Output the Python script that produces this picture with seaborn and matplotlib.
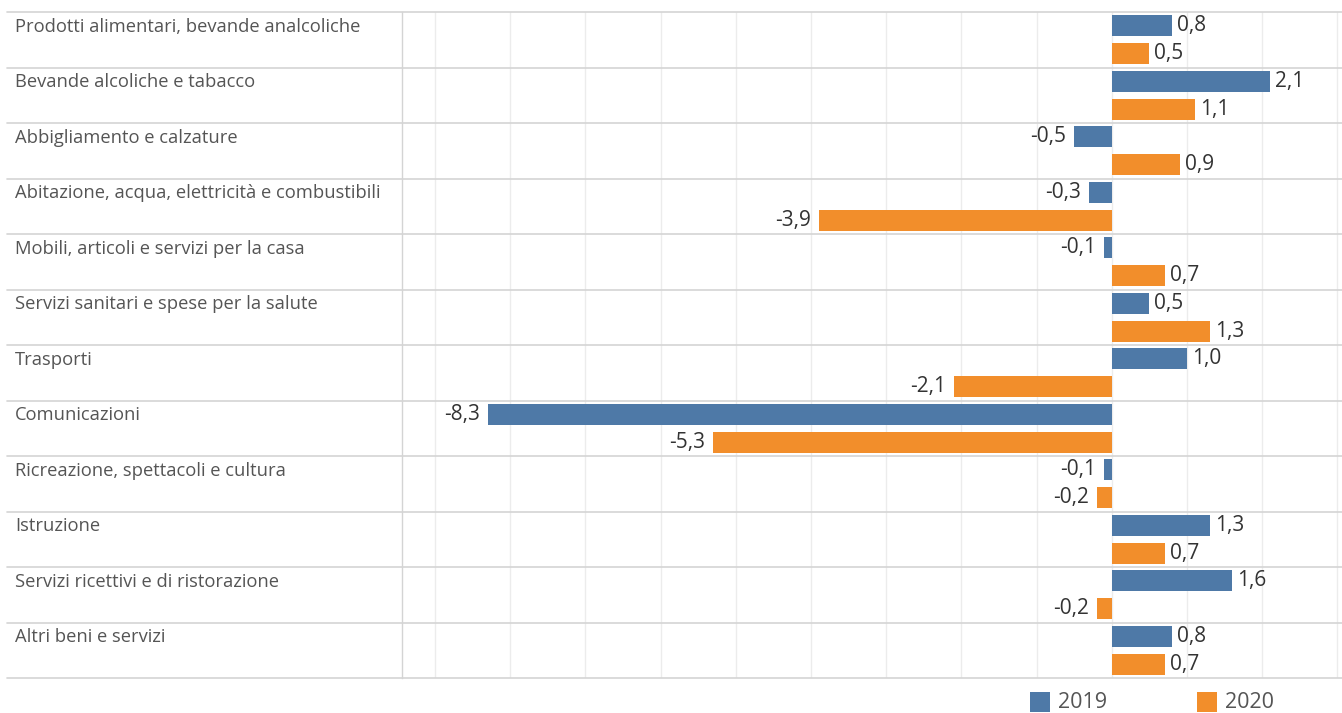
import matplotlib
matplotlib.use("Agg")
import matplotlib.pyplot as plt
import seaborn as sns
import pandas as pd
from matplotlib.patches import Rectangle

categories = [
    "Prodotti alimentari, bevande analcoliche",
    "Bevande alcoliche e tabacco",
    "Abbigliamento e calzature",
    "Abitazione, acqua, elettricità e combustibili",
    "Mobili, articoli e servizi per la casa",
    "Servizi sanitari e spese per la salute",
    "Trasporti",
    "Comunicazioni",
    "Ricreazione, spettacoli e cultura",
    "Istruzione",
    "Servizi ricettivi e di ristorazione",
    "Altri beni e servizi",
]
values_2019 = [0.8, 2.1, -0.5, -0.3, -0.1, 0.5, 1.0, -8.3, -0.1, 1.3, 1.6, 0.8]
values_2020 = [0.5, 1.1, 0.9, -3.9, 0.7, 1.3, -2.1, -5.3, -0.2, 0.7, -0.2, 0.7]
years = ["2019", "2020"]

colors = {"2019": "#4E79A7", "2020": "#F28E2B"}

df = pd.DataFrame({
    "categoria": categories * 2,
    "valore": values_2019 + values_2020,
    "anno": [years[0]] * len(categories) + [years[1]] * len(categories),
})

sns.set_theme(style="white")
plt.rcParams["font.family"] = ["Open Sans", "DejaVu Sans"]

W, H = 1342, 713
fig = plt.figure(figsize=(W / 100, H / 100), dpi=100)
ax_left, ax_right = 402, 1342
ax_top, ax_bot = 12, 678
ax = fig.add_axes([ax_left / W, 1 - ax_bot / H, (ax_right - ax_left) / W, (ax_bot - ax_top) / H])

sns.barplot(data=df, y="categoria", x="valore", hue="anno", orient="h",
            palette=colors, width=1.0, gap=0.24, ax=ax, legend=False,
            saturation=1, linewidth=0, errorbar=None)

xmin, xmax = -9.44, 3.06
ax.set_xlim(xmin, xmax)
ax.set_ylim(len(categories) - 0.5, -0.5)

# vertical gridlines at every unit
for gx in range(-9, 4):
    ax.axvline(gx, color="#ececec", lw=1, zorder=0)

ax.set_xticks([])
ax.set_yticks([])
ax.set_xlabel("")
ax.set_ylabel("")
for s in ["top", "right", "bottom"]:
    ax.spines[s].set_visible(False)
ax.spines["left"].set_color("#d4d4d4")
ax.spines["left"].set_linewidth(1)

# row separators spanning the label column and the plot
x0 = (7 - ax_left) / (ax_right - ax_left)
tr = ax.get_yaxis_transform()
for i in range(len(categories) + 1):
    ax.plot([x0, 1], [i - 0.5, i - 0.5], transform=tr, color="#d4d4d4",
            lw=1.2, clip_on=False, zorder=1)

# category labels in the left column
xl = (15 - ax_left) / (ax_right - ax_left)
for i, c in enumerate(categories):
    ax.text(xl, i - 0.5 + 0.1, c, transform=tr, ha="left", va="top",
            fontsize=13.2, color="#555555", clip_on=False)

# value labels
px_per_unit = (ax_right - ax_left) / (xmax - xmin)
for i in range(len(categories)):
    for v, off in ((values_2019[i], -0.25), (values_2020[i], 0.25)):
        txt = f"{v:.1f}".replace(".", ",")
        if v >= 0:
            ax.text(v + 5 / px_per_unit, i + off, txt, ha="left", va="center",
                    fontsize=15, color="#333333")
        else:
            ax.text(v - 8 / px_per_unit, i + off, txt, ha="right", va="center",
                    fontsize=15, color="#333333")

# legend at the bottom right: colour square + year
for y, sx in zip(years, (1030, 1197)):
    fig.patches.append(Rectangle((sx / W, 1 - 713 / H + 1 / H), 20 / W, 20 / H,
                                 transform=fig.transFigure, facecolor=colors[y],
                                 edgecolor="none"))
    fig.text((sx + 28) / W, 1 - 703 / H, y, ha="left", va="center",
             fontsize=15.5, color="#555555")

fig.savefig("out.png", dpi=100)
